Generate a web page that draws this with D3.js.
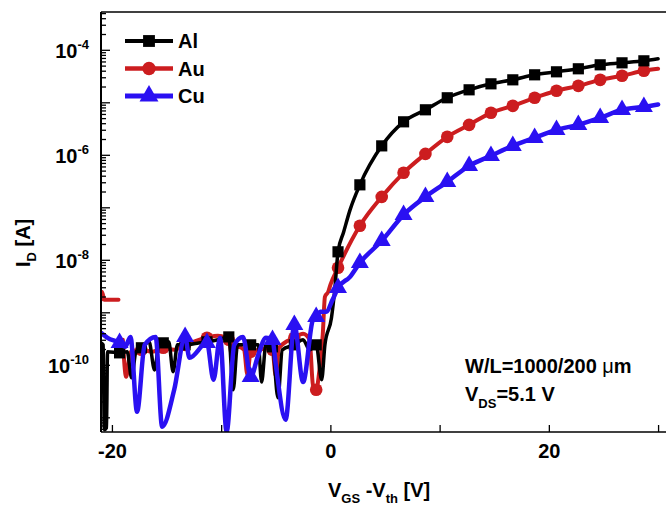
<!DOCTYPE html>
<html>
<head>
<meta charset="utf-8">
<script src="https://cdn.jsdelivr.net/npm/d3@7"></script>
<style>
body { margin:0; background:#fff; }
text { font-family:"Liberation Sans", Arial, sans-serif; font-weight:bold; fill:#000; }
</style>
</head>
<body>
<svg width="666" height="505"></svg>
<script>
// [V_GS - V_th, I_D]
const alData = [[-21.0,2.62e-10],[-20.8,2.40e-10],[-20.7,5.8e-12],[-20.5,6.3e-12],[-20.4,1.77e-10],[-19.3,1.69e-10],
  [-18.6,1.77e-10],[-18.2,5.65e-11],[-17.8,1.77e-10],[-17.3,2.11e-10],[-16.6,2.74e-10],[-16.1,8.0e-11],[-15.7,2.40e-10],
  [-15.3,2.62e-10],[-14.8,2.74e-10],[-14.4,7.4e-11],[-14.0,2.40e-10],[-13.3,2.40e-10],[-12.5,2.51e-10],[-11.3,2.74e-10],
  [-10.3,3.0e-10],[-9.3,3.4e-10],[-8.9,3.34e-11],[-8.5,2.40e-10],[-7.3,2.40e-10],[-6.6,2.40e-10],[-6.3,4.7e-11],
  [-5.9,2.40e-10],[-5.3,2.2e-10],[-4.8,2.35e-11],[-4.4,1.93e-10],[-3.3,2.40e-10],[-2.5,3.0e-10],[-1.9,1.93e-10],
  [-1.3,2.40e-10],[-0.8,5.2e-11],[-0.5,2.40e-10],[0.1,7.9e-10],[0.4,2.7e-9],[0.7,1.42e-8],[1.2,3.3e-8],[1.8,8.95e-8],
  [2.7,2.68e-7],[4.7,1.48e-6],[6.7,4.25e-6],[8.7,7.2e-6],[10.7,1.22e-5],[12.7,1.73e-5],[14.7,2.25e-5],[16.7,2.68e-5],
  [18.7,3.34e-5],[20.7,3.81e-5],[22.7,4.35e-5],[24.7,5.18e-5],[26.7,5.65e-5],[28.7,6.17e-5],[30.0,6.74e-5]];

// null = break in the trace
const auData = [[-21.0,1.73e-9],[-20.9,2.45e-9],[-20.7,1.73e-9],[-19.4,1.73e-9],[-19.2,null],[-19.0,3.0e-10],[-18.7,5.9e-11],
  [-18.3,1.77e-10],[-17.3,1.93e-10],[-16.3,1.77e-10],[-15.3,2.11e-10],[-14.3,1.93e-10],[-13.3,2.40e-10],[-12.3,2.86e-10],
  [-11.3,3.27e-10],[-10.3,3.56e-10],[-9.6,3.27e-10],[-9.3,3.0e-10],[-9.0,1.48e-10],[-8.5,2.2e-10],[-7.9,1.93e-10],
  [-7.6,6.5e-11],[-7.3,1.77e-10],[-6.5,1.93e-10],[-5.6,2.11e-10],[-5.3,1.93e-10],[-5.0,6.2e-11],[-4.7,2.11e-10],
  [-3.3,3.27e-10],[-2.5,3.9e-10],[-1.9,3.0e-10],[-1.6,4.2e-11],[-1.3,3.34e-11],[-1.0,8.0e-11],[-0.7,3.7e-10],
  [-0.5,1.97e-9],[-0.2,2.45e-9],[0.0,3.34e-9],[0.7,7.05e-9],[2.7,4.45e-8],[4.7,1.58e-7],[6.7,4.54e-7],[8.7,1.04e-6],
  [10.7,2.2e-6],[12.7,3.72e-6],[14.7,6.31e-6],[16.7,8.57e-6],[18.7,1.22e-5],[20.7,1.66e-5],[22.7,2.06e-5],
  [24.7,2.68e-5],[26.7,3.2e-5],[28.7,3.98e-5],[30.0,4.35e-5]];

const cuData = [[-21.0,4.07e-10],[-20.4,3.27e-10],[-19.3,2.62e-10],[-18.8,2.2e-10],[-18.3,3.4e-10],[-17.7,1.27e-11],
  [-17.0,2.40e-10],[-16.0,3.4e-10],[-15.4,6.6e-12],[-14.3,3.34e-11],[-13.3,3.4e-10],[-12.9,1.36e-10],[-11.3,2.62e-10],
  [-10.7,5.2e-11],[-10.1,3.27e-10],[-9.5,5.3e-12],[-8.8,2.40e-10],[-8.0,3.4e-10],[-7.3,5.9e-11],[-6.6,1.55e-10],
  [-5.9,3.27e-10],[-5.3,3.0e-10],[-5.0,1.0e-10],[-4.1,8.95e-12],[-3.3,5.78e-10],[-2.5,4.7e-11],[-1.6,7.2e-10],
  [-1.3,8.2e-10],[-0.9,1.02e-9],[-0.4,1.02e-9],[0.2,1.73e-9],[0.7,2.93e-9],[1.8,4.74e-9],[2.7,8.77e-9],[4.7,2.3e-8],
  [6.7,7.2e-8],[8.7,1.58e-7],[10.7,3.06e-7],[12.7,6.17e-7],[14.7,9.57e-7],[16.7,1.48e-6],[18.7,2.11e-6],
  [20.7,2.99e-6],[22.7,3.72e-6],[24.7,5.07e-6],[26.7,7.2e-6],[28.7,8.2e-6],[30.0,9.1e-6]];

// symbols sit on these voltages
const markV = [-19.3,-17.3,-15.3,-13.3,-11.3,-9.3,-7.3,-5.3,-3.3,-1.3,0.7,2.7,4.7,6.7,8.7,10.7,12.7,14.7,16.7,18.7,20.7,22.7,24.7,26.7,28.7];

const xTicks = [-20,-10,0,10,20,30];
const xLabels = [-20,0,20];
const yLabelExp = [-4,-6,-8,-10];

const series = [
  {name:"Au", data:auData, color:"#cc1d1f", width:4, sym:d3.symbolCircle, size:125},
  {name:"Al", data:alData, color:"#000000", width:3.5, sym:d3.symbolSquare, size:125},
  {name:"Cu", data:cuData, color:"#2a10f2", width:4.5, sym:d3.symbolTriangle, size:140}
];
const legendOrder = ["Al","Au","Cu"];

const svg = d3.select("svg");
const plotLeft = 101, plotTop = 12, plotBottom = 432;

const x = d3.scaleLinear().domain([-21,31]).range([plotLeft,669]);
const y = d3.scaleLog().domain([5.25e-12,5.25e-4]).range([plotBottom,plotTop]);

svg.append("clipPath").attr("id","clip")
  .append("rect").attr("x",plotLeft).attr("y",plotTop).attr("width",600).attr("height",plotBottom-plotTop);

// curves
const line = d3.line()
  .defined(function(d){ return d[1] != null; })
  .x(function(d){ return x(d[0]); })
  .y(function(d){ return y(d[1]); })
  .curve(d3.curveMonotoneX);

const plot = svg.append("g").attr("clip-path","url(#clip)");
series.forEach(function(s){
  plot.append("path")
    .datum(s.data)
    .attr("fill","none")
    .attr("stroke",s.color)
    .attr("stroke-width",s.width)
    .attr("stroke-linejoin","round")
    .attr("stroke-linecap","round")
    .attr("d",line);
  plot.selectAll(null)
    .data(s.data.filter(function(d){ return d[1] != null && markV.includes(d[0]); }))
    .enter().append("path")
    .attr("transform",function(d){ return "translate(" + x(d[0]) + "," + y(d[1]) + ")"; })
    .attr("d",d3.symbol().type(s.sym).size(s.size))
    .attr("fill",s.color);
});

// frame
svg.append("line").attr("x1",plotLeft).attr("x2",666).attr("y1",plotTop).attr("y2",plotTop)
  .attr("stroke","#000").attr("stroke-width",1.5);
svg.append("line").attr("x1",plotLeft).attr("x2",666).attr("y1",plotBottom).attr("y2",plotBottom)
  .attr("stroke","#000").attr("stroke-width",1.5);
svg.append("line").attr("x1",plotLeft).attr("x2",plotLeft).attr("y1",plotTop).attr("y2",plotBottom)
  .attr("stroke","#000").attr("stroke-width",2);

// x axis
const xAxis = svg.append("g")
  .attr("transform","translate(0," + plotBottom + ")")
  .call(d3.axisBottom(x).tickValues(xTicks).tickSize(-7).tickPadding(12)
    .tickFormat(function(d){ return xLabels.includes(d) ? d : ""; }));
xAxis.select(".domain").remove();
xAxis.selectAll("line").attr("stroke-width",1.3);
xAxis.selectAll("text").attr("font-size",20);
xAxis.attr("font-family",null).attr("font-size",null);

// y axis: decades and minor ticks
const decades = [], minors = [];
for (let e = -12; e <= -4; e++) {
  if (e >= -11) decades.push(Math.pow(10,e));
  for (let m = 2; m <= 9; m++) {
    const v = m * Math.pow(10,e);
    if (v > 5.25e-12 && v < 5.25e-4) minors.push(v);
  }
}
const yMajor = svg.append("g").attr("transform","translate(" + plotLeft + ",0)")
  .call(d3.axisRight(y).tickValues(decades).tickSize(9).tickFormat(""));
const yMinor = svg.append("g").attr("transform","translate(" + plotLeft + ",0)")
  .call(d3.axisRight(y).tickValues(minors).tickSize(5).tickFormat(""));
yMajor.select(".domain").remove();
yMinor.select(".domain").remove();
svg.selectAll(".tick line").attr("stroke-width",1.3);

yLabelExp.forEach(function(e){
  const t = svg.append("text")
    .attr("x",89).attr("y",y(Math.pow(10,e)) + 8)
    .attr("text-anchor","end").attr("font-size",20);
  t.append("tspan").text("10");
  t.append("tspan").attr("dy",-9).attr("font-size",13).text(String(e));
});

// axis titles
const xt = svg.append("text").attr("x",328).attr("y",497).attr("font-size",20);
xt.append("tspan").text("V");
xt.append("tspan").attr("dy",6).attr("font-size",13).text("GS");
xt.append("tspan").attr("dy",-6).text(" -V");
xt.append("tspan").attr("dy",6).attr("font-size",13).text("th");
xt.append("tspan").attr("dy",-6).text(" [V]");

const yt = svg.append("text").attr("transform","translate(30,267) rotate(-90)").attr("font-size",20);
yt.append("tspan").text("I");
yt.append("tspan").attr("dy",6).attr("font-size",13).text("D");
yt.append("tspan").attr("dy",-6).text(" [A]");

// legend
legendOrder.forEach(function(name,i){
  const s = series.find(function(d){ return d.name === name; });
  const ly = 41 + i * 27.5;
  svg.append("line").attr("x1",125).attr("x2",173).attr("y1",ly).attr("y2",ly)
    .attr("stroke",s.color).attr("stroke-width",s.width + 0.5);
  svg.append("path").attr("transform","translate(149," + ly + ")")
    .attr("d",d3.symbol().type(s.sym).size(s.size + 15)).attr("fill",s.color);
  svg.append("text").attr("x",178).attr("y",ly + 7).attr("font-size",20).text(name);
});

// annotation
const a1 = svg.append("text").attr("x",465).attr("y",373).attr("font-size",20);
a1.append("tspan").text("W/L=1000/200 ");
a1.append("tspan").attr("font-weight","normal").text("\u03bc");
a1.append("tspan").text("m");
const a2 = svg.append("text").attr("x",465).attr("y",401).attr("font-size",20);
a2.append("tspan").text("V");
a2.append("tspan").attr("dy",7).attr("font-size",13).text("DS");
a2.append("tspan").attr("dy",-7).text("=5.1 V");
</script>
</body>
</html>
